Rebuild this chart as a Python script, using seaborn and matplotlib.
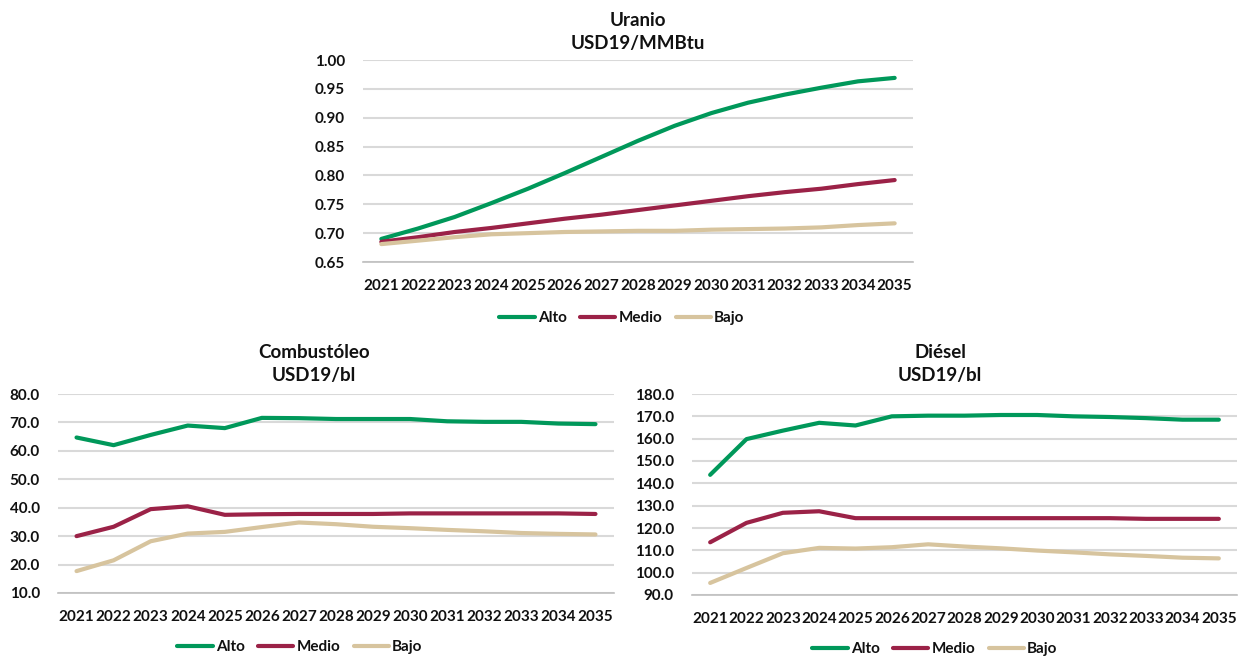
import numpy as np
import pandas as pd
import matplotlib
matplotlib.use("Agg")
import matplotlib.pyplot as plt
import seaborn as sns

# ---- data -------------------------------------------------------------
years = [str(y) for y in range(2021, 2036)]
scenarios = ["Alto", "Medio", "Bajo"]

uranio_alto = [0.690, 0.708, 0.728, 0.752, 0.777, 0.804, 0.832, 0.860, 0.886, 0.908, 0.926, 0.940, 0.952, 0.963, 0.969]
uranio_medio = [0.685, 0.693, 0.702, 0.709, 0.717, 0.725, 0.732, 0.740, 0.748, 0.756, 0.764, 0.771, 0.777, 0.785, 0.792]
uranio_bajo = [0.681, 0.687, 0.693, 0.698, 0.700, 0.702, 0.703, 0.704, 0.704, 0.706, 0.707, 0.708, 0.710, 0.714, 0.717]

combus_alto = [64.7, 62.0, 65.6, 68.9, 68.0, 71.6, 71.5, 71.2, 71.2, 71.2, 70.4, 70.2, 70.2, 69.6, 69.4]
combus_medio = [30.0, 33.3, 39.5, 40.5, 37.5, 37.7, 37.8, 37.8, 37.8, 38.0, 38.0, 38.0, 38.0, 38.0, 37.8]
combus_bajo = [17.7, 21.5, 28.2, 30.9, 31.5, 33.2, 34.8, 34.2, 33.3, 32.8, 32.2, 31.7, 31.1, 30.8, 30.6]

diesel_alto = [143.8, 159.8, 163.6, 167.1, 165.9, 170.0, 170.3, 170.3, 170.6, 170.6, 170.0, 169.7, 169.2, 168.5, 168.5]
diesel_medio = [113.6, 122.3, 126.8, 127.5, 124.4, 124.4, 124.4, 124.4, 124.4, 124.4, 124.4, 124.4, 124.1, 124.1, 124.1]
diesel_bajo = [95.4, 102.1, 108.7, 111.1, 110.8, 111.4, 112.7, 111.7, 110.9, 109.9, 109.1, 108.2, 107.5, 106.7, 106.4]

uranio_ticks = [0.65, 0.70, 0.75, 0.80, 0.85, 0.90, 0.95, 1.00]
combus_ticks = [10, 20, 30, 40, 50, 60, 70, 80]
diesel_ticks = [90, 100, 110, 120, 130, 140, 150, 160, 170, 180]

colors = {"Alto": "#00985A", "Medio": "#9B2247", "Bajo": "#D7C49E"}

# ---- style ------------------------------------------------------------
sns.set_theme(style="white")
plt.rcParams["font.family"] = ["Lato", "DejaVu Sans"]
plt.rcParams["font.weight"] = "bold"
TEXT = "#111111"
GRID = "#d9d9d9"
LABEL_SIZE = 11

W, H = 1241, 656
fig = plt.figure(figsize=(W / 100, H / 100), dpi=100)


def frame(px_left, px_right, px_top, px_bottom):
    return [px_left / W, 1 - px_bottom / H, (px_right - px_left) / W, (px_bottom - px_top) / H]


def long_table(alto, medio, bajo):
    rows = []
    for name, vals in zip(scenarios, (alto, medio, bajo)):
        for yr, v in zip(years, vals):
            rows.append({"Año": yr, "Valor": v, "Escenario": name})
    return pd.DataFrame(rows)


def draw_panel(rect, df, ticks, fmt, title, subtitle, title_xy, legend_xy):
    ax = fig.add_axes(frame(*rect))
    sns.lineplot(data=df, x="Año", y="Valor", hue="Escenario", hue_order=scenarios,
                 palette=colors, linewidth=3.0, ax=ax, sort=False,
                 solid_capstyle="round", solid_joinstyle="round")
    ax.set_xlim(-0.5, len(years) - 0.5)
    ax.set_ylim(ticks[0], ticks[-1])
    ax.set_yticks(ticks)
    ax.set_yticklabels([fmt.format(t) for t in ticks])
    ax.set_xticks(range(len(years)))
    ax.set_xticklabels(years)
    ax.set_xticks(np.arange(-0.5, len(years), 1.0), minor=True)
    ax.tick_params(axis="x", which="major", length=0, pad=12, labelsize=LABEL_SIZE, colors=TEXT)
    ax.tick_params(axis="x", which="minor", length=5, width=1, color="#bfbfbf", direction="out")
    ax.tick_params(axis="y", length=0, pad=13, labelsize=LABEL_SIZE, colors=TEXT)
    ax.yaxis.grid(True, color=GRID, linewidth=1.5)
    ax.set_axisbelow(True)
    for s in ("top", "right", "left"):
        ax.spines[s].set_visible(False)
    ax.spines["bottom"].set_color("#bfbfbf")
    ax.spines["bottom"].set_linewidth(1.2)
    ax.set_xlabel("")
    ax.set_ylabel("")
    for lab in ax.get_xticklabels() + ax.get_yticklabels():
        lab.set_fontweight("bold")

    handles, labels = ax.get_legend_handles_labels()
    ax.get_legend().remove()
    fig.legend(handles, labels, loc="center", ncol=3, frameon=False,
               bbox_to_anchor=(legend_xy[0] / W, 1 - legend_xy[1] / H),
               prop={"size": LABEL_SIZE, "weight": "bold"}, handlelength=2.3,
               handletextpad=0.2, columnspacing=0.9, labelcolor=TEXT)

    fig.text(title_xy[0] / W, 1 - title_xy[1] / H, title, ha="center", va="center",
             fontsize=13.5, fontweight="bold", color=TEXT)
    fig.text(title_xy[0] / W, 1 - (title_xy[1] + 24) / H, subtitle, ha="center", va="center",
             fontsize=13.5, fontweight="bold", color=TEXT)
    return ax


draw_panel((363, 913, 60, 262), long_table(uranio_alto, uranio_medio, uranio_bajo),
           uranio_ticks, "{:.2f}", "Uranio", "USD19/MMBtu", (638, 20), (622, 318))
draw_panel((58, 614, 394, 593), long_table(combus_alto, combus_medio, combus_bajo),
           combus_ticks, "{:.1f}", "Combustóleo", "USD19/bl", (314, 352), (300, 647))
draw_panel((692, 1237, 394, 595), long_table(diesel_alto, diesel_medio, diesel_bajo),
           diesel_ticks, "{:.1f}", "Diésel", "USD19/bl", (940, 352), (935, 649))

fig.savefig("out.png", dpi=100, facecolor="white")
